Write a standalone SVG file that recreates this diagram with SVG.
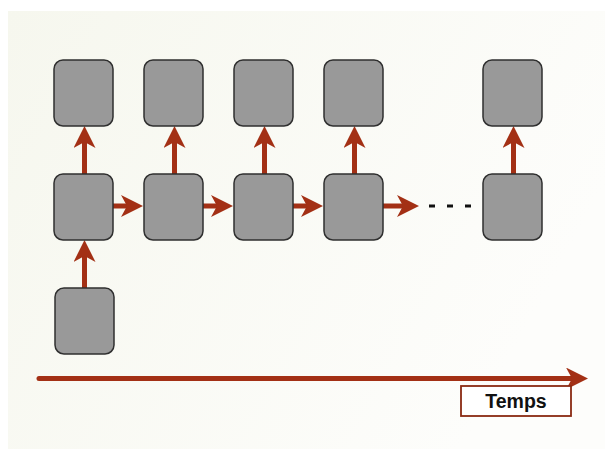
<svg xmlns="http://www.w3.org/2000/svg" width="605" height="450" viewBox="0 0 605 450">
<style>
.box{fill:#999999;stroke:#2f2f2f;stroke-width:1.5}
.arr{stroke:#a33015;stroke-width:5;fill:none;marker-end:url(#ah)}
.lbl{font-family:"Liberation Sans",Arial,sans-serif;font-weight:bold;font-size:19.5px;fill:#111}
</style>
<defs>
<linearGradient id="bg" x1="0" y1="0" x2="1" y2="0.4">
<stop offset="0" stop-color="#f6f7ee"/>
<stop offset="1" stop-color="#fdfdfb"/>
</linearGradient>
<marker id="ah" viewBox="0 0 22 22" refX="8" refY="11" markerWidth="22" markerHeight="22" markerUnits="userSpaceOnUse" orient="auto">
<path d="M0,0 L22,11 L0,22 L6,11 Z" fill="#a33015"/>
</marker>
</defs>
<rect x="0" y="0" width="605" height="450" fill="#ffffff"/>
<rect x="8" y="11" width="597" height="438" fill="url(#bg)"/>
<g id="connectors">
<path class="arr" d="M84.5,174 V140"/>
<path class="arr" d="M174.5,174 V140"/>
<path class="arr" d="M264.5,174 V140"/>
<path class="arr" d="M354.5,174 V140"/>
<path class="arr" d="M513.5,174 V140"/>
<path class="arr" d="M84.5,288 V254"/>
<path class="arr" d="M113,206 H129"/>
<path class="arr" d="M203,206 H219"/>
<path class="arr" d="M293,206 H309"/>
<path class="arr" d="M383,206 H405"/>
<path d="M429,206 H473" stroke="#111" stroke-width="3" stroke-dasharray="6 12"/>
<path class="arr" d="M39,378.5 H574" stroke-linecap="round"/>
</g>
<g id="t1"><rect class="box" x="54" y="60" width="59" height="66" rx="9"/></g>
<g id="t2"><rect class="box" x="144" y="60" width="59" height="66" rx="9"/></g>
<g id="t3"><rect class="box" x="234" y="60" width="59" height="66" rx="9"/></g>
<g id="t4"><rect class="box" x="324" y="60" width="59" height="66" rx="9"/></g>
<g id="t5"><rect class="box" x="483" y="60" width="59" height="66" rx="9"/></g>
<g id="m1"><rect class="box" x="54" y="174" width="59" height="66" rx="9"/></g>
<g id="m2"><rect class="box" x="144" y="174" width="59" height="66" rx="9"/></g>
<g id="m3"><rect class="box" x="234" y="174" width="59" height="66" rx="9"/></g>
<g id="m4"><rect class="box" x="324" y="174" width="59" height="66" rx="9"/></g>
<g id="m5"><rect class="box" x="483" y="174" width="59" height="66" rx="9"/></g>
<g id="b1"><rect class="box" x="55" y="288" width="59" height="66" rx="9"/></g>
<g id="temps">
<rect x="461" y="386" width="110" height="30" fill="#ffffff" stroke="#8a2a12" stroke-width="1.8"/>
<text class="lbl" x="516" y="408" text-anchor="middle">Temps</text>
</g>
</svg>
